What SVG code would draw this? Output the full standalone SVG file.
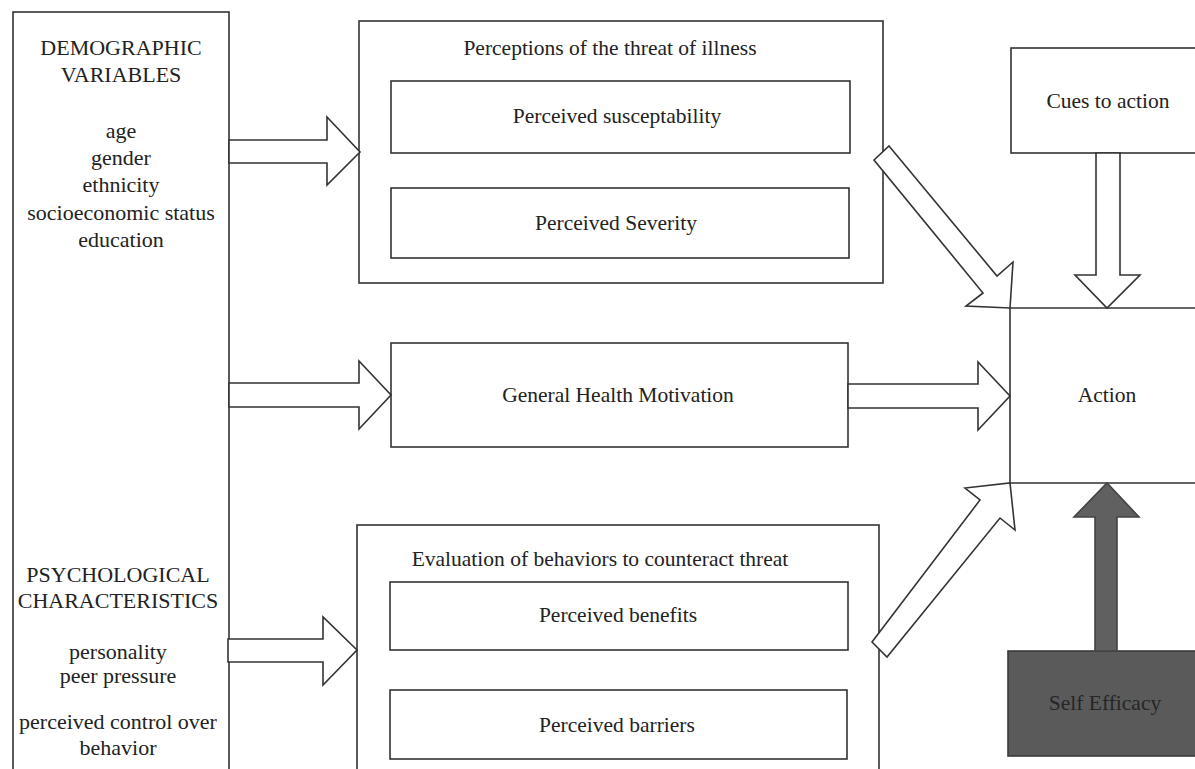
<svg xmlns="http://www.w3.org/2000/svg" width="1195" height="769" viewBox="0 0 1195 769">
<style>
.box{fill:#fff;stroke:#333;stroke-width:1.6}
.arr{fill:#fff;stroke:#333;stroke-width:1.6;stroke-linejoin:miter}
.line{fill:none;stroke:#333;stroke-width:1.6}
text{font-family:"Liberation Serif","Times New Roman",serif;fill:#222;text-anchor:middle;font-size:21.5px}
.big{font-size:22px}
.dark{fill:#5a5a5a;stroke:#3a3a3a;stroke-width:1.6}
</style>
<rect width="1195" height="769" fill="#fff"/>
<g id="left">
<rect class="box" x="13" y="12" width="216" height="770"/>
<text class="big" x="121" y="55">DEMOGRAPHIC</text>
<text class="big" x="121" y="82">VARIABLES</text>
<text class="big" x="121" y="138">age</text>
<text class="big" x="121" y="165">gender</text>
<text class="big" x="121" y="192">ethnicity</text>
<text class="big" x="121" y="220">socioeconomic status</text>
<text class="big" x="121" y="247">education</text>
<text class="big" x="118" y="582">PSYCHOLOGICAL</text>
<text class="big" x="118" y="608">CHARACTERISTICS</text>
<text class="big" x="118" y="659">personality</text>
<text class="big" x="118" y="683">peer pressure</text>
<text class="big" x="118" y="729">perceived control over</text>
<text class="big" x="118" y="755">behavior</text>
</g>
<g id="perceptions">
<rect class="box" x="359" y="21" width="524" height="262"/>
<text x="610" y="55">Perceptions of the threat of illness</text>
<rect class="box" x="391" y="81" width="459" height="72"/>
<text x="617" y="123">Perceived susceptability</text>
<rect class="box" x="391" y="188" width="458" height="70"/>
<text x="616" y="230">Perceived Severity</text>
</g>
<g id="ghm">
<rect class="box" x="391" y="343" width="457" height="104"/>
<text x="618" y="402">General Health Motivation</text>
</g>
<g id="evaluation">
<rect class="box" x="357" y="525" width="522" height="260"/>
<text x="600" y="566">Evaluation of behaviors to counteract threat</text>
<rect class="box" x="390" y="582" width="458" height="68"/>
<text x="618" y="622">Perceived benefits</text>
<rect class="box" x="390" y="690" width="457" height="69"/>
<text x="617" y="732">Perceived barriers</text>
</g>
<g id="cues">
<rect class="box" x="1011" y="48" width="200" height="105"/>
<text x="1108" y="108">Cues to action</text>
</g>
<g id="action">
<path class="line" d="M1195,308 H1010 V483 H1195"/>
<text x="1107" y="402">Action</text>
</g>
<g id="selfefficacy">
<rect class="dark" x="1008" y="651" width="200" height="105"/>
<text x="1105" y="710" style="fill:#262626">Self Efficacy</text>
</g>
<g id="connectors">
<polygon class="arr" points="229,140 327,140 327,117 360,152 327,185 327,163 229,163"/>
<polygon class="arr" points="229,383 359,383 359,361 391,395 359,429 359,407 229,407"/>
<polygon class="arr" points="228,639 323,639 323,617 357,650 323,685 323,662 228,662"/>
<polygon class="arr" points="848,384 978,384 978,362 1010,396 978,430 978,408 848,408"/>
<polygon class="arr" points="889,146 997,276 1013,262 1010,308 966,306 983,293 874,160"/>
<polygon class="arr" points="872,642 980,500 965,488 1010,483 1015,530 1000,518 887,657"/>
<polygon class="arr" points="1096,153 1120,153 1120,275 1140,275 1107,308 1075,275 1096,275"/>
<polygon class="dark" style="fill:#606060;stroke:#444" points="1095,651 1095,517 1074,517 1107,483 1139,517 1117,517 1117,651"/>
</g>
</svg>
